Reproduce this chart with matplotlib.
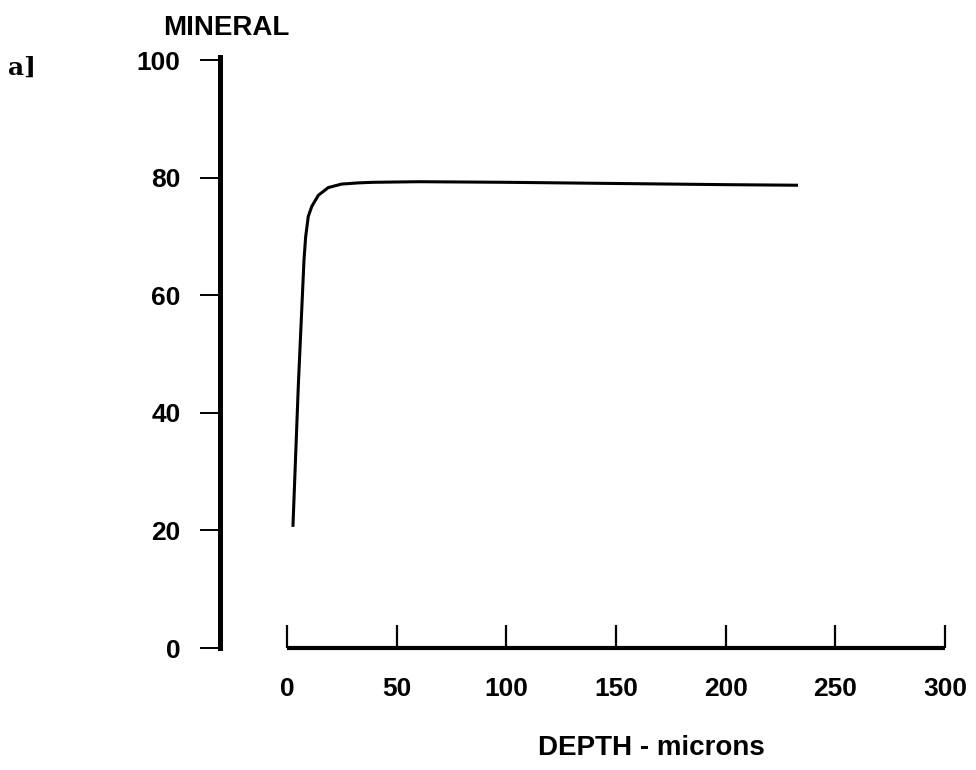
import matplotlib
matplotlib.use("Agg")
import matplotlib.pyplot as plt

# Mineral content profile versus depth
depth = [2.7, 5.2, 7.75, 8.5, 9.7, 11.3, 14.3, 18.8, 24.9, 32.5, 39.2, 60, 100, 150, 200, 233]
mineral = [20.6, 45.0, 66.0, 69.9, 73.4, 75.1, 77.0, 78.3, 78.9, 79.1, 79.2, 79.3, 79.2, 79.0, 78.8, 78.7]

x_ticks = [0, 50, 100, 150, 200, 250, 300]
y_ticks = [0, 20, 40, 60, 80, 100]

W, H = 976, 770
fig = plt.figure(figsize=(W / 100, H / 100), dpi=100)
fig.patch.set_facecolor("white")

px_per_unit = (945 - 287) / 300.0
ax_left, ax_right = 220, 945
ax_top, ax_bottom = 60, 648
ax = fig.add_axes([ax_left / W, (H - ax_bottom) / H,
                   (ax_right - ax_left) / W, (ax_bottom - ax_top) / H])
ax.set_xlim(-(287 - ax_left) / px_per_unit, 300)
ax.set_ylim(0, 100)

ax.plot(depth, mineral, color="black", lw=2.2, solid_capstyle="butt",
        solid_joinstyle="round")

font = "Liberation Sans"
for s in ("top", "right"):
    ax.spines[s].set_visible(False)
ax.spines["left"].set_linewidth(3.6)
ax.spines["left"].set_bounds(0, 100.5)
ax.spines["bottom"].set_linewidth(3.0)
ax.spines["bottom"].set_bounds(0, 300)
ax.spines["bottom"].set_capstyle("butt")

ax.set_xticks(x_ticks)
ax.set_yticks(y_ticks)
ax.tick_params(axis="x", direction="in", length=16.5, width=1.6, pad=21,
               labelsize=19)
ax.tick_params(axis="y", direction="out", length=14.5, width=1.4, pad=14,
               labelsize=19)
for lab in ax.get_xticklabels() + ax.get_yticklabels():
    lab.set_fontfamily(font)
    lab.set_fontweight("bold")

fig.text(226 / W, 1 - 28 / H, "MINERAL", ha="center", va="center",
         fontsize=20, fontweight="bold", family=font)
fig.text(651 / W, 1 - 748 / H, "DEPTH - microns", ha="center", va="center",
         fontsize=20, fontweight="bold", family=font)
fig.text(8 / W, 1 - 68 / H, "a]", ha="left", va="center",
         fontsize=18, fontweight="bold", family="DejaVu Serif")

fig.savefig("out.png", dpi=100, facecolor="white")
